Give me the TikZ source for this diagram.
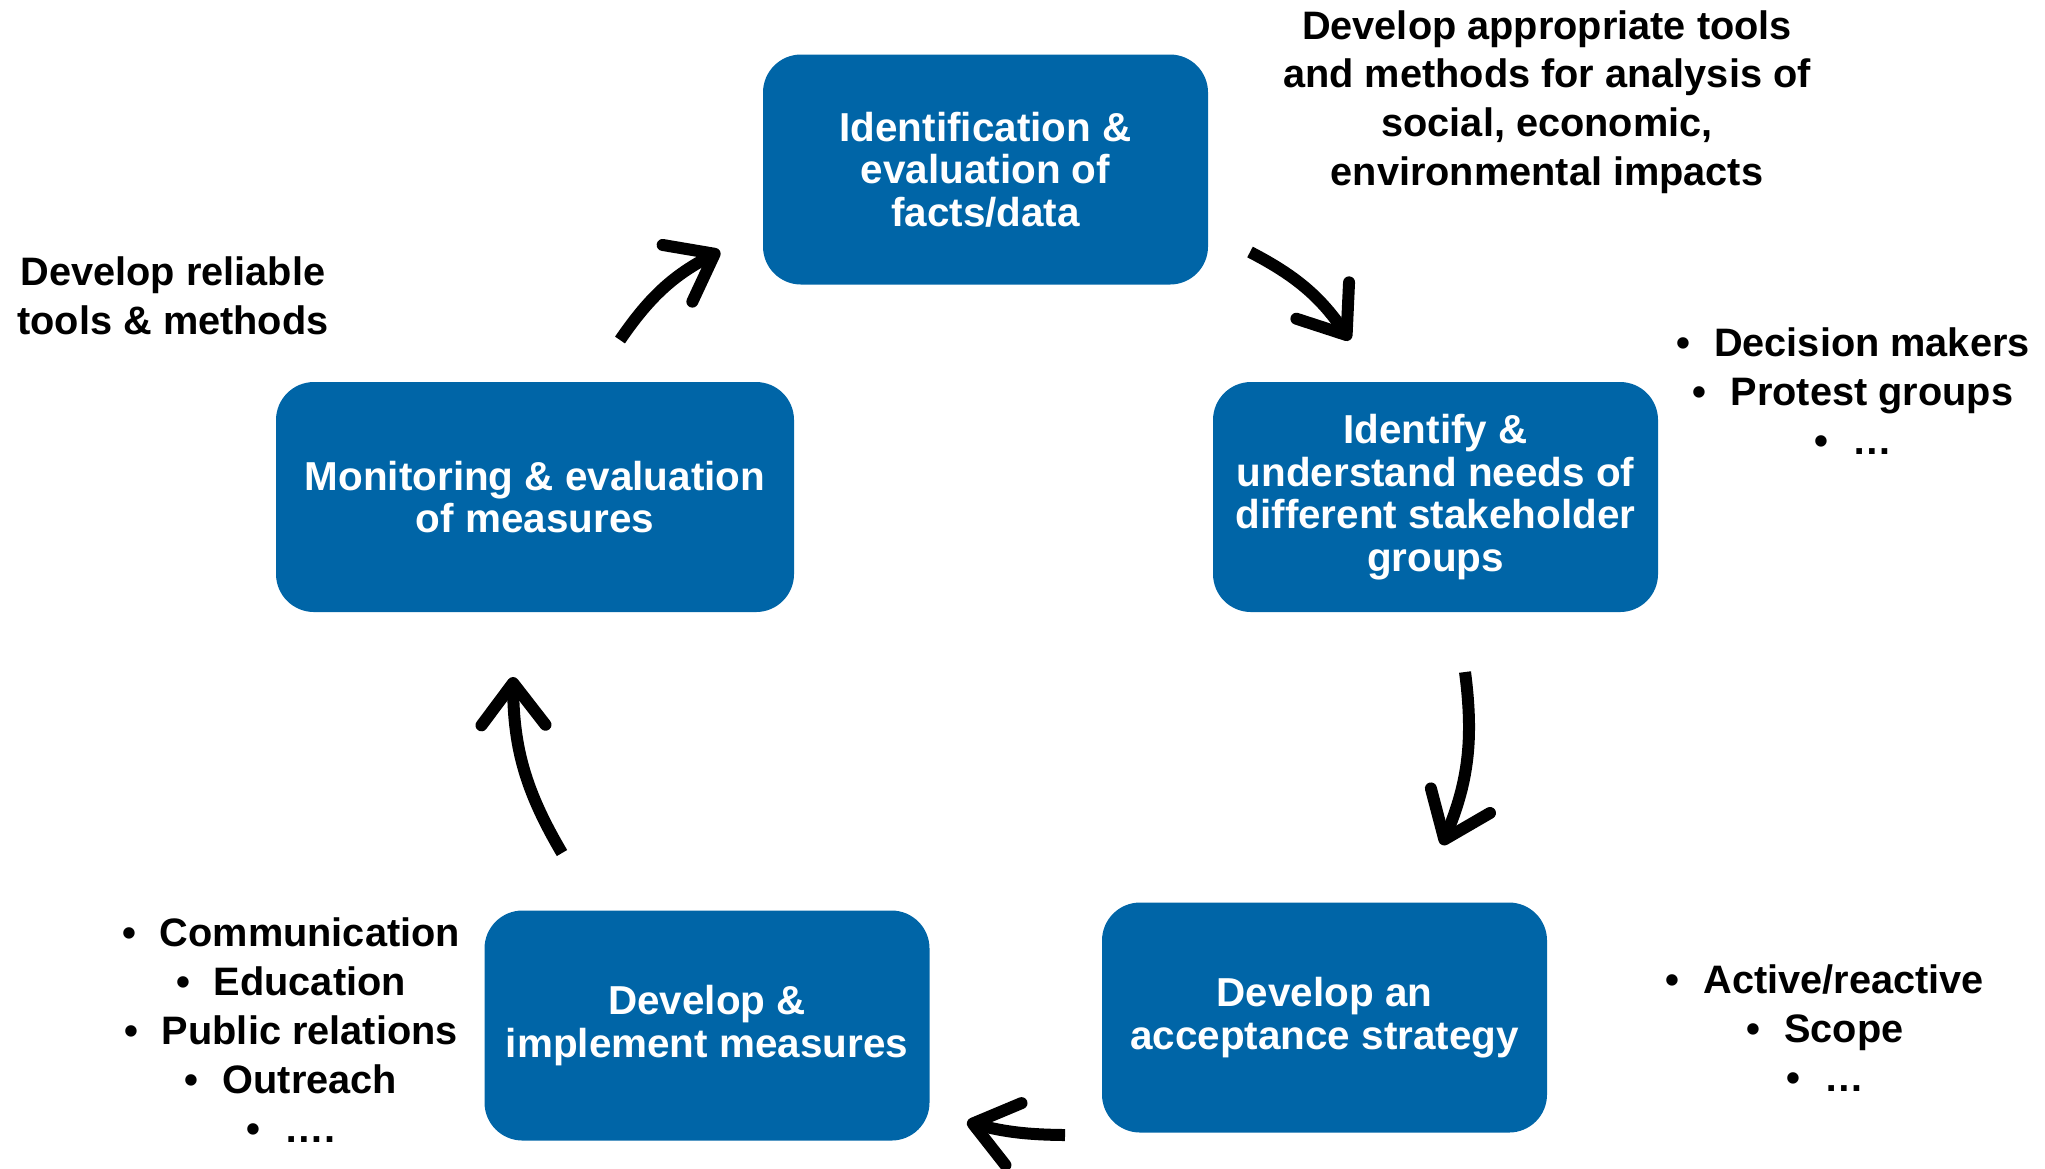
\documentclass[tikz,border=0pt]{standalone}
\usepackage{fontspec}
\setmainfont{Liberation Sans}
\usetikzlibrary{arrows.meta}
\definecolor{boxblue}{RGB}{0,101,167}
\tikzset{
    cyclebox/.style={fill=boxblue, rounded corners=0.38cm, text=white, align=center,
        inner sep=0pt, minimum width=4.45cm, minimum height=2.3cm,
        font=\fontsize{11.5}{12.1}\selectfont\bfseries},
    note/.style={align=center, inner sep=0pt, font=\fontsize{11.3}{13.9}\selectfont\bfseries},
    cyclearrow/.style={line width=0.12cm,
        -{Straight Barb[length=0.42cm, width=0.64cm, round]}}
}
\newcommand{\bul}{\textbullet\hspace{0.6em}}
\begin{document}
\begin{tikzpicture}
    \useasboundingbox (0,0) rectangle (20.45,-11.68);
    % the five steps
    \node [cyclebox] (facts) at (9.855,-1.695) {Identification \&\\evaluation of\\facts/data};
    \node [cyclebox] (needs) at (14.355,-4.97) {Identify \&\\understand needs of\\different stakeholder\\groups};
    \node [cyclebox] (strategy) at (13.245,-10.175) {Develop an\\acceptance strategy};
    \node [cyclebox] (measures) at (7.07,-10.255) {Develop \&\\implement measures};
    \node [cyclebox, minimum width=5.18cm] (monitor) at (5.35,-4.97) {Monitoring \& evaluation\\of measures};
    % notes
    \node [note] (toolsA) at (15.47,-1.02) {Develop appropriate tools\\and methods for analysis of\\social, economic,\\environmental impacts};
    \node [note] (toolsB) at (1.73,-2.96) {Develop reliable\\tools \& methods};
    \node [note] (groups) at (18.53,-3.91) {\bul Decision makers\\\bul Protest groups\\\bul …};
    \node [note] (scope) at (18.25,-10.28) {\bul Active/reactive\\\bul Scope\\\bul …};
    \node [note] (comm) at (2.91,-10.30) {\bul Communication\\\bul Education\\\bul Public relations\\\bul Outreach\\\bul ….};
    % arrow ends
    \coordinate (a1) at (6.20,-3.40);  \coordinate (b1) at (7.20,-2.51);
    \coordinate (a2) at (12.50,-2.52); \coordinate (b2) at (13.50,-3.40);
    \coordinate (a3) at (14.65,-6.72); \coordinate (b3) at (14.42,-8.45);
    \coordinate (a4) at (10.65,-11.35); \coordinate (b4) at (9.67,-11.22);
    \coordinate (a5) at (5.62,-8.53);  \coordinate (b5) at (5.13,-6.77);
    \foreach \i/\b in {1/14, 2/14, 3/15, 4/7, 5/15} %
        \draw [cyclearrow] (a\i) to [bend left=\b] (b\i);
\end{tikzpicture}
\end{document}
